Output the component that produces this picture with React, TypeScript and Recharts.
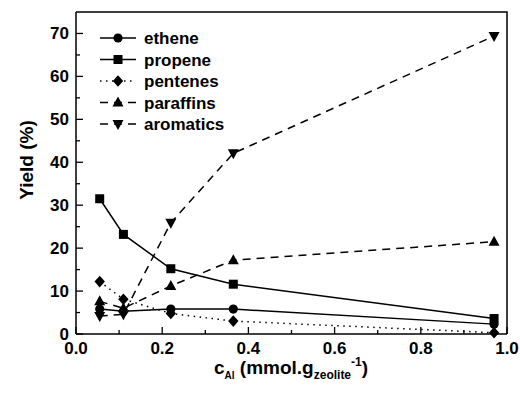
import React from 'react';
import { LineChart, Line, XAxis, YAxis } from 'recharts';

const xValues = [0.055, 0.11, 0.22, 0.365, 0.97];
const ethene = [5.8, 5.3, 5.8, 5.8, 2.3];
const propene = [31.5, 23.2, 15.2, 11.6, 3.6];
const pentenes = [12.2, 8.1, 4.8, 3.0, 0.3];
const paraffins = [7.6, 6.0, 11.2, 17.2, 21.5];
const aromatics = [4.2, 4.6, 25.9, 42.1, 69.4];

const xTicks = [0, 0.1, 0.2, 0.3, 0.4, 0.5, 0.6, 0.7, 0.8, 0.9, 1.0];
const yTicks = [0, 5, 10, 15, 20, 25, 30, 35, 40, 45, 50, 55, 60, 65, 70];
const X_MAX = 1;
const Y_MAX = 75;

const data = xValues.map((x, i) => ({
  x,
  ethene: ethene[i],
  propene: propene[i],
  pentenes: pentenes[i],
  paraffins: paraffins[i],
  aromatics: aromatics[i],
}));

// layout
const W = 520;
const H = 401;
const M_TOP = 12;
const M_RIGHT = 13;
const Y_AXIS_W = 76;
const X_AXIS_H = 67;

const FONT = '"Liberation Sans", Arial, Helvetica, sans-serif';

type Marker = 'circle' | 'square' | 'diamond' | 'up' | 'down';

const drawMarker = (m: Marker, cx: number, cy: number, key?: string | number) => {
  switch (m) {
    case 'circle':
      return <circle key={key} cx={cx} cy={cy} r={4.6} fill="#000" />;
    case 'square':
      return <rect key={key} x={cx - 4.5} y={cy - 4.5} width={9} height={9} fill="#000" />;
    case 'diamond':
      return <polygon key={key} points={`${cx},${cy - 5.8} ${cx + 5.2},${cy} ${cx},${cy + 5.8} ${cx - 5.2},${cy}`} fill="#000" />;
    case 'up':
      return <polygon key={key} points={`${cx},${cy - 6} ${cx + 5.5},${cy + 4} ${cx - 5.5},${cy + 4}`} fill="#000" />;
    case 'down':
      return <polygon key={key} points={`${cx},${cy + 6} ${cx + 5.5},${cy - 4} ${cx - 5.5},${cy - 4}`} fill="#000" />;
  }
};

const series: { key: string; name: string; marker: Marker; dash?: string }[] = [
  { key: 'ethene', name: 'ethene', marker: 'circle' },
  { key: 'propene', name: 'propene', marker: 'square' },
  { key: 'pentenes', name: 'pentenes', marker: 'diamond', dash: '1.5 4.5' },
  { key: 'paraffins', name: 'paraffins', marker: 'up', dash: '8 6' },
  { key: 'aromatics', name: 'aromatics', marker: 'down', dash: '8 6' },
];

const XTick = (props: any) => {
  const { x, y, payload } = props;
  const v = payload.value as number;
  const major = Math.round(v * 10) % 2 === 0;
  return (
    <g>
      <line x1={x} x2={x} y1={y} y2={y - (major ? 7 : 4)} stroke="#000" strokeWidth={1.3} />
      {major && (
        <text x={x} y={y + 20} textAnchor="middle" fontFamily={FONT} fontWeight="bold" fontSize={17} fill="#000">
          {v.toFixed(1)}
        </text>
      )}
    </g>
  );
};

const YTick = (props: any) => {
  const { x, y, payload } = props;
  const v = payload.value as number;
  const major = v % 10 === 0;
  return (
    <g>
      <line x1={x} x2={x + (major ? 7 : 4)} y1={y} y2={y} stroke="#000" strokeWidth={1.3} />
      {major && (
        <text x={x - 7} y={y + 6} textAnchor="end" fontFamily={FONT} fontWeight="bold" fontSize={17} fill="#000">
          {v}
        </text>
      )}
    </g>
  );
};

const LegendBox = () => (
  <svg width={150} height={112} style={{ position: 'absolute', left: 100, top: 30 }}>
    {series.map((s, i) => {
      const cy = 8 + i * 21.5;
      return (
        <g key={s.key}>
          <line x1={0} x2={36} y1={cy} y2={cy} stroke="#000" strokeWidth={1.5} strokeDasharray={s.dash} />
          {drawMarker(s.marker, 18, cy)}
          <text x={44} y={cy + 6} fontFamily={FONT} fontWeight="bold" fontSize={17} fill="#000">
            {s.name}
          </text>
        </g>
      );
    })}
  </svg>
);

const Frame = () => {
  const left = Y_AXIS_W;
  const top = M_TOP;
  const right = W - M_RIGHT;
  const bottom = H - X_AXIS_H;
  return (
    <svg width={W} height={H} style={{ position: 'absolute', left: 0, top: 0, pointerEvents: 'none' }}>
      <path d={`M${left},${top} H${right} V${bottom}`} fill="none" stroke="#000" strokeWidth={1.5} />
    </svg>
  );
};

const XTitle = () => (
  <svg width={W} height={40} style={{ position: 'absolute', left: 0, top: 350 }}>
    <text x={291} y={24} textAnchor="middle" fontFamily={FONT} fontWeight="bold" fontSize={19} fill="#000">
      c
      <tspan fontSize={10} dy={5}>Al</tspan>
      <tspan dy={-5}> (mmol.g</tspan>
      <tspan fontSize={12} dy={5}>zeolite</tspan>
      <tspan fontSize={12} dy={-13}>-1</tspan>
      <tspan dy={8}>)</tspan>
    </text>
  </svg>
);

export default function App() {
  return (
    <div style={{ position: 'absolute', left: 0, top: 0, width: W, height: H, background: '#fff' }}>
      <LineChart width={W} height={H} data={data} margin={{ top: M_TOP, right: M_RIGHT, left: 0, bottom: 0 }}>
        <XAxis
          dataKey="x"
          type="number"
          domain={[0, X_MAX]}
          ticks={xTicks}
          interval={0}
          tick={<XTick />}
          tickLine={false}
          tickSize={0}
          tickMargin={0}
          axisLine={{ stroke: '#000', strokeWidth: 1.5 }}
          height={X_AXIS_H}
        />
        <YAxis
          type="number"
          domain={[0, Y_MAX]}
          ticks={yTicks}
          interval={0}
          tick={<YTick />}
          tickLine={false}
          tickSize={0}
          tickMargin={0}
          axisLine={{ stroke: '#000', strokeWidth: 1.5 }}
          width={Y_AXIS_W}
        />
        {series.map((s) => (
          <Line
            key={s.key}
            dataKey={s.key}
            name={s.name}
            stroke="#000"
            strokeWidth={1.5}
            strokeDasharray={s.dash}
            isAnimationActive={false}
            dot={(p: any) => drawMarker(s.marker, p.cx, p.cy, p.index)}
            activeDot={false}
          />
        ))}
      </LineChart>
      <Frame />
      <LegendBox />
      <XTitle />
      <div
        style={{
          position: 'absolute',
          left: 27,
          top: 160,
          transform: 'translate(-50%, -50%) rotate(-90deg)',
          fontFamily: FONT,
          fontWeight: 'bold',
          fontSize: 19,
          whiteSpace: 'nowrap',
        }}
      >
        Yield (%)
      </div>
    </div>
  );
}
